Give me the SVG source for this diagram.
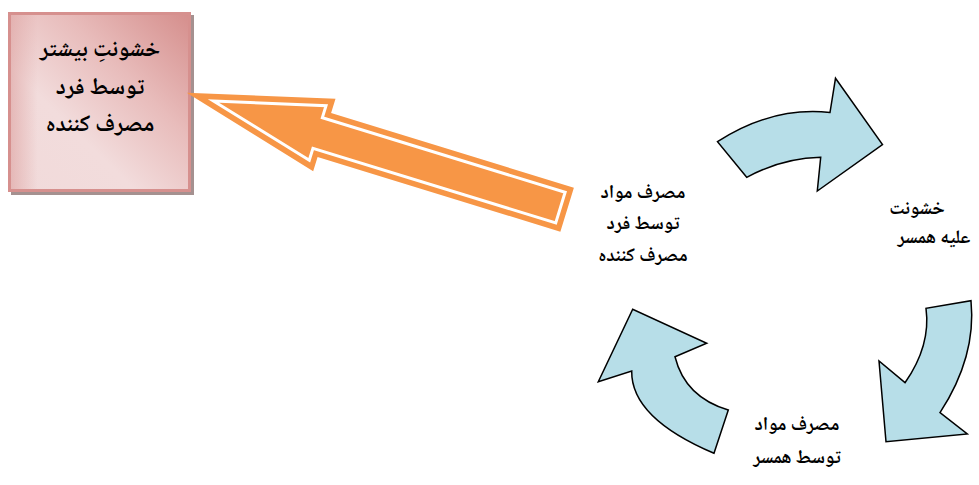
<svg xmlns="http://www.w3.org/2000/svg" width="979" height="485" viewBox="0 0 979 485">
<style>
.lbl{font-family:"Noto Naskh Arabic","Noto Sans Arabic","DejaVu Sans",sans-serif;font-weight:bold;fill:#000;text-anchor:middle;direction:rtl}
.cyc{fill:#b7dee8;stroke:#000;stroke-width:1.5;stroke-linejoin:miter}
</style>
<defs>
<linearGradient id="boxg" x1="1" y1="0" x2="0" y2="1">
<stop offset="0" stop-color="#d58e8c"/>
<stop offset="0.35" stop-color="#e8bcbb"/>
<stop offset="0.65" stop-color="#f2dcdc"/>
<stop offset="1" stop-color="#f1dada"/>
</linearGradient>
<linearGradient id="boxl" x1="0" y1="0" x2="1" y2="0">
<stop offset="0" stop-color="#d99694" stop-opacity="0.5"/>
<stop offset="0.15" stop-color="#d99694" stop-opacity="0"/>
</linearGradient>
</defs>
<g id="box">
<rect x="11" y="15" width="183" height="180" fill="#a59190"/>
<rect x="9.5" y="13.5" width="180" height="177" fill="url(#boxg)" stroke="#d6908e" stroke-width="3"/>
<rect x="11" y="15" width="177" height="174" fill="url(#boxl)"/>
<text class="lbl" font-size="23" x="100" y="56">خشونتِ بیشتر</text>
<text class="lbl" font-size="23" x="100" y="94">توسط فرد</text>
<text class="lbl" font-size="23" x="100" y="131">مصرف کننده</text>
</g>
<g id="connectors">
<g id="orange-arrow" transform="translate(186.7,92.7) rotate(17.09)">
<polygon points="0,0 144,-38 144,-23 398,-23 398,23 144,23 144,38" fill="#f79646"/>
<polygon points="28,0 137,-28.5 137,-16 391,-16 391,16 137,16 137,28.5" fill="none" stroke="#fff" stroke-width="3"/>
</g>
<path id="arrow-top" class="cyc" d="M717.5,141.7 Q772,106.3 830,112.5 L835.5,78.3 L882.5,144.5 L817.3,191 L820.7,157.3 Q782.3,158.1 746.7,177.3 Z"/>
<path id="arrow-right" class="cyc" d="M971,300.7 Q976.5,356.7 940,412.7 L967.3,434 L886,441.7 L879,361 L905,382.7 Q931,345.5 926,308.3 Z"/>
<path id="arrow-left" class="cyc" d="M714,453.3 Q631,418 631.7,371 L598.3,381.7 L632.7,309.3 L706.7,343.3 L675,356.7 Q685,397 728.3,410 Z"/>
</g>
<g id="node-user">
<text class="lbl" font-size="19" x="643" y="198">مصرف مواد</text>
<text class="lbl" font-size="19" x="643" y="229">توسط فرد</text>
<text class="lbl" font-size="19" x="643" y="261">مصرف کننده</text>
</g>
<g id="node-violence">
<text class="lbl" font-size="19" x="917" y="214">خشونت</text>
<text class="lbl" font-size="19" x="934" y="243">علیه همسر</text>
</g>
<g id="node-spouse">
<text class="lbl" font-size="19" x="797" y="430">مصرف مواد</text>
<text class="lbl" font-size="19" x="797" y="463">توسط همسر</text>
</g>
</svg>
